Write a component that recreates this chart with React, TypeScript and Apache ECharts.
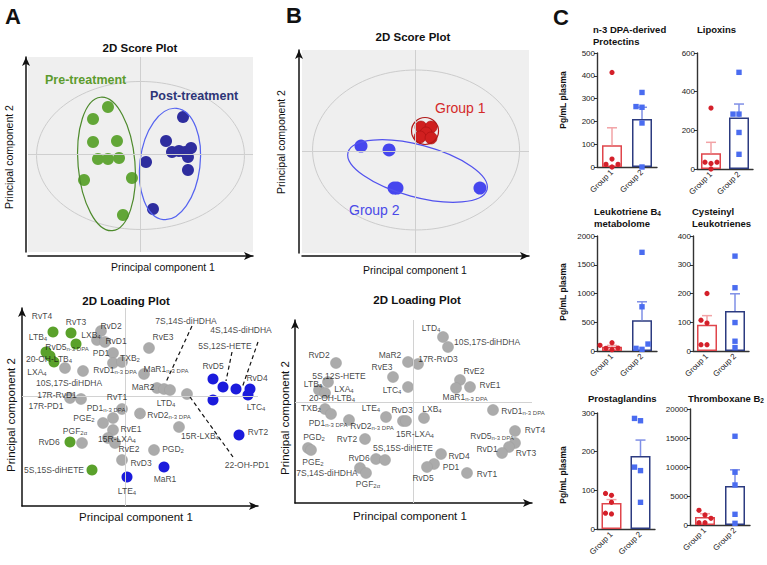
import React, { useEffect, useRef } from 'react';
import * as echarts from 'echarts';

const FONT = '"Liberation Sans", Arial, Helvetica, sans-serif';

// ---------- Panel A: 2D score plot (PCA units) ----------
const preTreatment = [[-2.89, 4.87], [-4.22, 3.64], [-4.22, 1.28], [-2.09, 1.38], [-3.78, -0.46], [-2.89, -0.46], [-1.91, -0.36], [-5.02, -2.62], [-0.76, -2.41], [-1.56, -6.21]];
const postTreatment = [[3.78, 3.85], [2.27, 1.38], [2.8, 0.26], [3.42, 0.36], [3.96, 0.26], [4.49, 0.67], [4.22, -0.26], [0.49, -0.77], [4.22, -1.59], [1.11, -5.59]];
// ellipses: [cx, cy, rx, ry, rotationDeg]
const scoreAHotelling = [0, -0.1, 9.24, 7.59, 0];
const preEllipse = [-3.02, -0.97, 2.53, 6.87, 5];
const postEllipse = [2.62, -0.97, 2.67, 5.74, -7];

// ---------- Panel B: 2D score plot ----------
const group1Scores = [[0.48, 2.41], [1.37, 2.41], [0.93, 1.82], [0.4, 1.43], [1.37, 1.33]];
const group2Scores = [[-4.8, 0.54], [-2.33, 0.15], [-1.89, -3.6], [-1.63, -3.6], [5.68, -3.6]];
const scoreBHotelling = [0.05, 0.15, 9.12, 7.88, 0];
const group1Ellipse = [0.84, 2.02, 1.19, 1.33, 0];
const group2Ellipse = [0.18, -1.92, 6.34, 2.56, -15];

// ---------- Panel A: loading plot ----------
const loadingAGreen = [[-7.2, 6.4], [-5.4, 6.3], [-4.9, 5.2], [-7.9, 4.4], [-7.5, 4.0], [-7.1, 3.4], [-5.5, -4.6], [-3.3, -7.4]];
const loadingAGray = [[-2.4, 6.5], [-2.8, 5.6], [-2.0, 5.4], [-1.2, 4.3], [-1.2, 3.3], [-0.3, 3.4], [-6.0, 2.8], [-4.2, 2.5], [1.9, 2.2], [2.4, 4.8], [-5.5, -0.2], [-4.4, -0.3], [-0.3, -1.3], [-1.2, -2.2], [-2.2, -2.7], [1.5, -1.75], [-1.2, -3.4], [-1.7, -4.2], [-1.0, -4.7], [-4.3, -4.7], [-0.3, -6.4], [2.9, -5.4], [3.2, 0.8], [3.9, 0.7], [4.5, 0.6], [6.2, 0.2], [5.4, -3.1]];
const loadingABlue = [[0.2, -8.1], [3.9, -7.1], [8.8, 1.7], [9.8, 0.9], [11.1, 0.7], [12.5, 0.7], [12.3, 0.1], [8.8, -0.4], [11.4, -3.9]];
const loadingALabels: [string, number, number][] = [
  ['RvT4', -8.3, 8.0], ['RvT3', -4.9, 7.4], ['RvD2', -1.4, 7.0], ['LXB_4', -3.4, 6.1], ['LTB_4', -8.7, 5.9],
  ['RvD1', -0.9, 5.5], ['RvD5_n-3 DPA', -5.8, 4.9], ['PD1', -2.4, 4.3], ['20-OH-LTB_4', -7.6, 3.7], ['TXB_2', 0.5, 3.8],
  ['LXA_4', -8.8, 2.4], ['RvD1_n-3 DPA', -1.0, 2.6], ['MaR1_n-3 DPA', 4.1, 2.7], ['RvE3', 3.8, 5.9], ['10S,17S-diHDHA', -5.6, 1.3],
  ['MaR2', 1.8, 0.9], ['17R-RvD1', -6.8, 0.1], ['17R-PD1', -7.9, -1.0], ['RvT1', -0.8, -0.1], ['LTD_4', 4.1, -0.7],
  ['PD1_n-3 DPA', -1.9, -1.2], ['RvD2_n-3 DPA', 4.4, -1.9], ['PGE_2', -4.1, -2.2], ['RvE1', 0.6, -3.3], ['PGF_2α', -5.0, -3.5],
  ['15R-LXA_4', -0.8, -4.3], ['15R-LXB_4', 7.5, -4.0], ['RvD6', -7.6, -4.6], ['RvE2', 0.4, -5.3], ['PGD_2', 4.8, -5.3],
  ['RvD3', 1.6, -6.7], ['5S,15S-diHETE', -7.1, -7.4], ['MaR1', 4.0, -8.3], ['LTE_4', 0.2, -9.5], ['RvD5', 8.8, 3.0],
  ['RvD4', 13.2, 1.8], ['LTC_4', 13.1, -1.1], ['RvT2', 13.3, -3.6], ['22-OH-PD1', 12.2, -6.9], ['7S,14S-diHDHA', 6.1, 7.5],
  ['4S,14S-diHDHA', 11.6, 6.6], ['5S,12S-HETE', 10.0, 5.0],
];
// leader lines: [x1, y1, x2, y2]
const leaderLinesA = [[6.7, 7.0, 4.1, 1.4], [13.3, 5.4, 11.7, 0.8], [10.7, 4.4, 10.1, 1.5], [6.5, -0.1, 10.8, -6.1]];

// ---------- Panel B: loading plot ----------
const loadingBGray = [[-7.7, 3.9], [-8.5, 2.0], [-9.4, 1.2], [-8.8, 0.9], [-8.8, -0.7], [-8.2, -1.2], [-6.4, -1.8], [-10.5, -4.6], [-10.2, -4.8], [-4.8, -3.7], [-5.3, -6.6], [-4.7, -7.1], [-3.7, -5.7], [-2.8, -5.8], [-0.5, 4.0], [0.5, 3.8], [-2.0, 2.5], [-0.5, 1.5], [-2.7, -1.5], [-1.0, -1.9], [-0.7, -1.9], [1.1, -1.6], [3.0, 6.5], [3.5, 5.5], [4.7, 2.2], [4.3, 1.4], [5.7, 1.5], [8.0, -0.8], [10.2, -2.9], [10.2, -4.1], [9.6, -4.5], [8.9, -5.1], [2.8, -5.2], [2.1, -6.2], [1.4, -6.5], [5.4, -7.1]];
const loadingBLabels: [string, number, number][] = [
  ['RvD2', -9.4, 4.7], ['MaR2', -2.3, 4.7], ['RvE3', -3.1, 3.5], ['5S,12S-HETE', -7.4, 2.6], ['LTB_4', -10.0, 1.8],
  ['LXA_4', -6.9, 1.3], ['LTC_4', -2.1, 1.2], ['20-OH-LTB_4', -8.1, 0.4], ['TXB_2', -10.2, -0.6], ['LTE_4', -4.2, -0.6],
  ['RvD3', -1.1, -0.8], ['LXB_4', 1.9, -0.7], ['PD1_n-3 DPA', -8.5, -2.1], ['RvD2_n-3 DPA', -4.1, -2.4], ['15R-LXA_4', 0.2, -3.2],
  ['PGD_2', -9.9, -3.5], ['RvT2', -6.6, -3.7], ['5S,15S-diHETE', -1.0, -4.6], ['PGE_2', -10.0, -6.0], ['RvD6', -5.4, -5.6],
  ['7S,14S-diHDHA', -8.6, -7.1], ['PGF_2α', -4.5, -8.2], ['RvD5', 1.0, -7.6], ['LTD_4', 1.8, 7.4], ['10S,17S-diHDHA', 7.4, 6.0],
  ['17R-RvD3', 2.5, 4.3], ['RvE2', 6.1, 3.1], ['RvE1', 7.7, 1.7], ['MaR1_n-3 DPA', 5.2, 0.5], ['RvD1_n-3 DPA', 11.0, -0.9],
  ['RvT4', 12.2, -2.8], ['RvD5_n-3 DPA', 7.9, -3.4], ['RvD1', 7.4, -4.7], ['RvT3', 11.3, -5.1], ['RvD4', 4.6, -5.4],
  ['PD1', 3.8, -6.5], ['RvT1', 7.4, -7.2],
];

// ---------- Panel C: bar charts (pg/mL plasma) ----------
const groupCategories = ['Group 1', 'Group 2'];

const protectinsG1 = [415, 35, 12, 12, 0];
const protectinsG2 = [327, 265, 262, 193, 0];
const protectinsMean = [95, 210];
const protectinsSem = [77, 52];

const lipoxinsG1 = [315, 35, 35, 29, 0];
const lipoxinsG2 = [500, 284, 284, 189, 76];
const lipoxinsMean = [81, 266];
const lipoxinsSem = [57, 70];

const ltb4G1 = [144, 98, 52, 46, 23];
const ltb4G2 = [1716, 769, 121, 46, 29];
const ltb4Mean = [73, 536];
const ltb4Sem = [24, 320];

const cysLtG1 = [200, 107, 97, 22, 22];
const cysLtG2 = [330, 220, 99, 34, 12];
const cysLtMean = [91, 139];
const cysLtSem = [32, 60];

const prostaglandinsG1 = [92, 87, 69, 41, 39];
const prostaglandinsG2 = [286, 280, 160, 151, 69];
const prostaglandinsMean = [67, 189];
const prostaglandinsSem = [9, 41];

const txb2G1 = [2536, 1729, 1153, 403, 403];
const txb2G2 = [15300, 9100, 6900, 1844, 288];
const txb2Mean = [1400, 6744];
const txb2Sem = [550, 2770];

const yMaxes = [500, 600, 2000, 400, 300, 20000];
const yIntervals = [100, 200, 500, 100, 100, 5000];

// ---------- styling / layout ----------
const RED = '#e0454b';
const NAVY = '#2c3b80';
const ERR1 = '#f2a3a6';
const ERR2 = '#7f8fe6';
const DOT1 = '#d4202a';
const DOT2 = '#4a6cf0';

const SUB_RICH = { s: { fontSize: 6, padding: [4, 0, 0, 0], color: '#111', fontFamily: FONT } };
function richLabel(t: string) {
  const i = t.indexOf('_');
  return i < 0 ? t : t.slice(0, i) + '{s|' + t.slice(i + 1) + '}';
}

function swarm(values: number[], max: number, height: number, step: number, minDist: number) {
  const ppu = height / max;
  const placed: { x: number; y: number }[] = [];
  const order = values.map((_, i) => i).sort((a, b) => values[a] - values[b]);
  const offs = new Array(values.length).fill(0);
  for (const i of order) {
    const y = values[i] * ppu;
    for (const k of [0, -1, 1, -2, 2, -3, 3]) {
      const x = k * step;
      if (placed.every((p) => Math.hypot(p.x - x, p.y - y) >= minDist)) {
        offs[i] = x;
        placed.push({ x, y });
        break;
      }
    }
  }
  return offs;
}

function ellipseSeries(axis: number, e: number[], color: string, width = 1, z = 1) {
  return {
    type: 'custom',
    xAxisIndex: axis,
    yAxisIndex: axis,
    silent: true,
    z,
    data: [e],
    renderItem: (_p: any, api: any) => {
      const c = api.coord([api.value(0), api.value(1)]);
      const s = api.size([api.value(2), api.value(3)]);
      return {
        type: 'ellipse',
        x: c[0],
        y: c[1],
        rotation: (api.value(4) * Math.PI) / 180,
        shape: { cx: 0, cy: 0, rx: s[0], ry: s[1] },
        style: { fill: 'none', stroke: color, lineWidth: width },
      };
    },
  };
}

const arrowLine = { show: true, onZero: false, symbol: ['none', 'arrow'], symbolSize: [6, 9], lineStyle: { color: '#111', width: 1.5 } };

function pcaAxis(grid: number, min: number, max: number, offset: number) {
  return { gridIndex: grid, type: 'value', min, max, offset, axisLine: arrowLine, axisTick: { show: false }, axisLabel: { show: false }, splitLine: { show: false } };
}

const crossHair = (color: string) => ({
  silent: true,
  symbol: ['none', 'none'],
  label: { show: false },
  lineStyle: { color, width: 1, type: 'solid' },
  data: [{ xAxis: 0 }, { yAxis: 0 }],
});

function txt(text: string, x: number, y: number, o: any = {}) {
  return {
    type: 'text',
    x,
    y,
    rotation: o.rotation || 0,
    z: 10,
    style: {
      text,
      fontFamily: FONT,
      fontSize: o.fontSize || 10.5,
      fontWeight: o.fontWeight || 'normal',
      fill: o.fill || '#111',
      align: o.align || 'center',
      verticalAlign: o.verticalAlign || 'middle',
      lineHeight: o.lineHeight,
      rich: o.rich,
    },
  };
}

export default function App() {
  const ref = useRef<HTMLDivElement>(null);
  useEffect(() => {
    if (!ref.current) return;
    const chart = echarts.init(ref.current, null, { renderer: 'svg' });

    const barLayouts = [
      { left: 597, top: 53, width: 60, height: 114 },
      { left: 697, top: 53, width: 56, height: 116 },
      { left: 597, top: 236, width: 60, height: 115 },
      { left: 693, top: 236, width: 56, height: 115 },
      { left: 597, top: 413, width: 58, height: 116 },
      { left: 690, top: 409, width: 60, height: 116 },
    ];
    const barPoints = [
      [protectinsG1, protectinsG2], [lipoxinsG1, lipoxinsG2], [ltb4G1, ltb4G2],
      [cysLtG1, cysLtG2], [prostaglandinsG1, prostaglandinsG2], [txb2G1, txb2G2],
    ];
    const barMeans = [protectinsMean, lipoxinsMean, ltb4Mean, cysLtMean, prostaglandinsMean, txb2Mean];
    const barSems = [protectinsSem, lipoxinsSem, ltb4Sem, cysLtSem, prostaglandinsSem, txb2Sem];

    const grid: any[] = [
      { left: 28, top: 57, width: 225, height: 195, show: true, backgroundColor: '#efefef', borderWidth: 0 },
      { left: 302, top: 50, width: 227, height: 203, show: true, backgroundColor: '#efefef', borderWidth: 0 },
      { left: 22, top: 308, width: 236, height: 198 },
      { left: 295, top: 320, width: 237, height: 183 },
      ...barLayouts,
    ];
    const xAxis: any[] = [
      pcaAxis(0, -10, 10, 4),
      pcaAxis(1, -10, 10, 3),
      pcaAxis(2, -10.3, 13.3, 0),
      pcaAxis(3, -11.8, 11.9, 0),
    ];
    const yAxis: any[] = [
      pcaAxis(0, -10, 10, 2),
      pcaAxis(1, -10, 10, 3),
      pcaAxis(2, -11, 8.8, 0),
      pcaAxis(3, -10.1, 8.2, 0),
    ];
    const series: any[] = [];

    // Score plot A
    series.push(ellipseSeries(0, scoreAHotelling, '#cccccc'));
    series.push({
      type: 'scatter', xAxisIndex: 0, yAxisIndex: 0, symbolSize: 12, z: 3, silent: true,
      itemStyle: { color: '#62a637', opacity: 1 }, data: preTreatment,
      markLine: crossHair('#cfcfcf'),
    });
    series.push({ type: 'scatter', xAxisIndex: 0, yAxisIndex: 0, symbolSize: 12, z: 3, silent: true, itemStyle: { color: '#2e2d9e', opacity: 1 }, data: postTreatment });
    series.push(ellipseSeries(0, preEllipse, '#4d8a2c', 1.2, 4));
    series.push(ellipseSeries(0, postEllipse, '#5563f0', 1.2, 4));

    // Score plot B
    series.push(ellipseSeries(1, scoreBHotelling, '#cccccc'));
    series.push({
      type: 'scatter', xAxisIndex: 1, yAxisIndex: 1, symbolSize: 12, z: 3, silent: true,
      itemStyle: { color: '#d01f1f', borderColor: '#a81010', borderWidth: 0.6, opacity: 1 }, data: group1Scores,
      markLine: crossHair('#cfcfcf'),
    });
    series.push({ type: 'scatter', xAxisIndex: 1, yAxisIndex: 1, symbolSize: 13, z: 3, silent: true, itemStyle: { color: '#4646ee', opacity: 1 }, data: group2Scores });
    series.push(ellipseSeries(1, group1Ellipse, '#b01818', 1.2, 4));
    series.push(ellipseSeries(1, group2Ellipse, '#5252ee', 1.2, 4));

    // Loading plot A
    const grayPt = { color: '#ababab', borderColor: '#9c9c9c', borderWidth: 0.5, opacity: 1 };
    series.push({ type: 'scatter', xAxisIndex: 2, yAxisIndex: 2, symbolSize: 11, z: 3, silent: true, itemStyle: grayPt, data: loadingAGray, markLine: crossHair('#d2d2d2') });
    series.push({ type: 'scatter', xAxisIndex: 2, yAxisIndex: 2, symbolSize: 11, z: 3, silent: true, itemStyle: { color: '#5aa12b', opacity: 1 }, data: loadingAGreen });
    series.push({ type: 'scatter', xAxisIndex: 2, yAxisIndex: 2, symbolSize: 11, z: 3, silent: true, itemStyle: { color: '#1b1bdc', opacity: 1 }, data: loadingABlue });
    const labelSeries = (axis: number, labels: [string, number, number][]) => ({
      type: 'scatter', xAxisIndex: axis, yAxisIndex: axis, symbolSize: 1, z: 6, silent: true, clip: false,
      itemStyle: { color: 'rgba(0,0,0,0)' },
      data: labels.map(([t, x, y]) => ({ value: [x, y], name: t })),
      label: {
        show: true, position: 'inside', color: '#111', fontSize: 8.5, fontFamily: FONT,
        textBorderWidth: 0, textBorderColor: 'transparent',
        formatter: (p: any) => richLabel(p.name), rich: SUB_RICH,
      },
    });
    series.push({
      ...labelSeries(2, loadingALabels),
      markLine: {
        silent: true, symbol: ['none', 'none'], label: { show: false },
        lineStyle: { type: [4, 3], color: '#111', width: 1.2 },
        data: leaderLinesA.map(([x1, y1, x2, y2]) => [{ coord: [x1, y1] }, { coord: [x2, y2] }]),
      },
    });

    // Loading plot B
    series.push({ type: 'scatter', xAxisIndex: 3, yAxisIndex: 3, symbolSize: 11, z: 3, silent: true, itemStyle: grayPt, data: loadingBGray, markLine: crossHair('#d2d2d2') });
    series.push(labelSeries(3, loadingBLabels));

    // Bar charts C
    barLayouts.forEach((lay, i) => {
      const gi = 4 + i;
      xAxis.push({
        gridIndex: gi, type: 'category', data: groupCategories,
        axisLine: { show: true, lineStyle: { color: '#333', width: 1.4 } },
        axisTick: { show: false },
        axisLabel: { rotate: 45, fontSize: 8, color: '#222', margin: 4, fontFamily: FONT },
        splitLine: { show: false },
      });
      yAxis.push({
        gridIndex: gi, type: 'value', min: 0, max: yMaxes[i], interval: yIntervals[i],
        axisLine: { show: true, lineStyle: { color: '#333', width: 1.4 } },
        axisTick: { show: true, length: 3, lineStyle: { color: '#333' } },
        axisLabel: { fontSize: 8, color: '#222', margin: 2, fontFamily: FONT, formatter: (v: number) => String(v) },
        splitLine: { show: false },
      });
      series.push({
        type: 'bar', xAxisIndex: gi, yAxisIndex: gi, barWidth: 20, z: 2, silent: true,
        itemStyle: { color: '#fff', borderWidth: 1.5 },
        data: [
          { value: barMeans[i][0], itemStyle: { borderColor: RED } },
          { value: barMeans[i][1], itemStyle: { borderColor: NAVY } },
        ],
      });
      series.push({
        type: 'custom', xAxisIndex: gi, yAxisIndex: gi, z: 3, silent: true,
        data: [[0, barMeans[i][0], barSems[i][0]], [1, barMeans[i][1], barSems[i][1]]],
        renderItem: (_p: any, api: any) => {
          const idx = api.value(0);
          const p0 = api.coord([idx, api.value(1)]);
          const p1 = api.coord([idx, api.value(1) + api.value(2)]);
          const color = idx === 0 ? ERR1 : ERR2;
          return {
            type: 'group',
            children: [
              { type: 'line', shape: { x1: p0[0], y1: p0[1], x2: p1[0], y2: p1[1] }, style: { stroke: color, lineWidth: 1.5 } },
              { type: 'line', shape: { x1: p1[0] - 5, y1: p1[1], x2: p1[0] + 5, y2: p1[1] }, style: { stroke: color, lineWidth: 1.5 } },
            ],
          };
        },
      });
      const pts: number[][] = [];
      barPoints[i].forEach((vals, g) => {
        const offs = swarm(vals, yMaxes[i], lay.height, 6, 5.5);
        vals.forEach((v, k) => pts.push([g, v, offs[k]]));
      });
      series.push({
        type: 'custom', xAxisIndex: gi, yAxisIndex: gi, z: 4, silent: true, data: pts,
        renderItem: (_p: any, api: any) => {
          const c = api.coord([api.value(0), api.value(1)]);
          const x = c[0] + api.value(2);
          if (api.value(0) === 0) {
            return { type: 'circle', shape: { cx: x, cy: c[1], r: 2.6 }, style: { fill: DOT1 } };
          }
          return { type: 'rect', shape: { x: x - 2.7, y: c[1] - 2.7, width: 5.4, height: 5.4 }, style: { fill: DOT2 } };
        },
      });
    });

    const bold = { fontWeight: 'bold' };
    const subBold = { s: { fontSize: 6.5, fontWeight: 'bold', padding: [4, 0, 0, 0], fontFamily: FONT } };
    const graphic: any[] = [
      txt('A', 13, 16, { fontSize: 22, ...bold }),
      txt('B', 294, 15, { fontSize: 22, ...bold }),
      txt('C', 561, 17, { fontSize: 22, ...bold }),
      txt('2D Score Plot', 140, 48, { fontSize: 11.5, ...bold }),
      txt('2D Score Plot', 413, 37, { fontSize: 11.5, ...bold }),
      txt('2D Loading Plot', 126, 301, { fontSize: 11.5, ...bold }),
      txt('2D Loading Plot', 417, 300, { fontSize: 11.5, ...bold }),
      txt('Pre-treatment', 45, 80, { fontSize: 12.5, ...bold, fill: '#5c9b2d', align: 'left' }),
      txt('Post-treatment', 150, 96, { fontSize: 12.5, ...bold, fill: '#2d3577', align: 'left' }),
      txt('Group 1', 435, 108, { fontSize: 14, fill: '#d42a2a', align: 'left' }),
      txt('Group 2', 349, 210, { fontSize: 14, fill: '#4a4ae8', align: 'left' }),
      txt('Principal component 2', 9, 157, { rotation: Math.PI / 2 }),
      txt('Principal component 1', 163, 267),
      txt('Principal component 2', 281, 142, { rotation: Math.PI / 2 }),
      txt('Principal component 1', 415, 270),
      txt('Principal component 2', 11, 415, { rotation: Math.PI / 2, fontSize: 11.5 }),
      txt('Principal component 1', 136, 517, { fontSize: 11.5 }),
      txt('Principal component 2', 285, 418, { rotation: Math.PI / 2, fontSize: 11.5 }),
      txt('Principal component 1', 410, 516, { fontSize: 11.5 }),
      txt('n-3 DPA-derived\nProtectins', 593, 35, { fontSize: 9.5, ...bold, align: 'left', lineHeight: 12 }),
      txt('Lipoxins', 697, 29, { fontSize: 9.5, ...bold, align: 'left' }),
      txt('Leukotriene B{s|4}\nmetabolome', 594, 217, { fontSize: 9.5, ...bold, align: 'left', lineHeight: 12, rich: subBold }),
      txt('Cysteinyl\nLeukotrienes', 692, 217, { fontSize: 9.5, ...bold, align: 'left', lineHeight: 12 }),
      txt('Prostaglandins', 588, 398, { fontSize: 9.5, ...bold, align: 'left' }),
      txt('Thromboxane B{s|2}', 688, 398, { fontSize: 9.5, ...bold, align: 'left', rich: subBold }),
      txt('Pg/mL plasma', 563, 100, { fontSize: 8.5, ...bold, rotation: Math.PI / 2 }),
      txt('Pg/mL plasma', 563, 292, { fontSize: 8.5, ...bold, rotation: Math.PI / 2 }),
      txt('Pg/mL plasma', 563, 475, { fontSize: 8.5, ...bold, rotation: Math.PI / 2 }),
    ];

    chart.setOption({
      animation: false,
      backgroundColor: '#ffffff',
      textStyle: { fontFamily: FONT },
      grid,
      xAxis,
      yAxis,
      series,
      graphic,
    });
    return () => chart.dispose();
  }, []);
  return <div ref={ref} style={{ position: 'fixed', left: 0, top: 0, width: 767, height: 565, background: '#fff' }} />;
}
